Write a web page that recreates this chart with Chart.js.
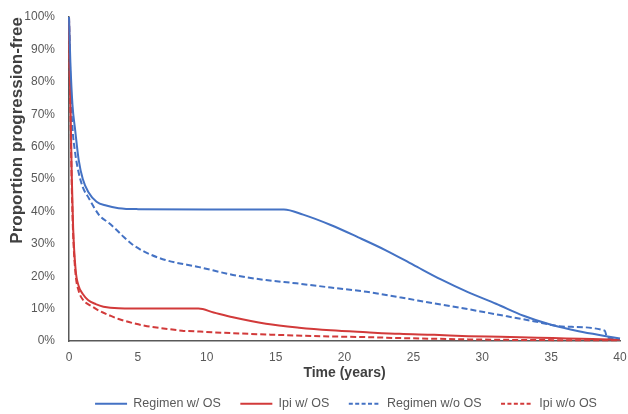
<!DOCTYPE html>
<html>
<head>
<meta charset="utf-8">
<script src="https://cdn.jsdelivr.net/npm/chart.js@4/dist/chart.umd.min.js"></script>
<style>
  html, body { margin: 0; padding: 0; background: #ffffff; }
  #wrap { width: 628px; height: 414px; }
</style>
</head>
<body>
<div id="wrap"><canvas id="pfs"></canvas></div>
<script>
// Progression-free proportion (%) over time (years), four modelled curves
const regimenOsYears = [0, 0.1, 0.25, 0.45, 0.7, 1.0, 1.4, 2.0, 2.7, 3.6, 5, 10, 15.6, 17, 19, 21, 23, 25, 27, 29, 31, 33, 35, 37, 39, 40];
const regimenOsPct   = [100, 86, 73, 65, 56, 50, 46, 43, 41.8, 41, 40.7, 40.6, 40.6, 39.0, 35.8, 32.0, 28.0, 23.5, 19.0, 15.0, 11.5, 7.8, 5.0, 3.0, 1.5, 0.8];

const ipiOsYears = [0, 0.05, 0.12, 0.2, 0.3, 0.48, 0.7, 1.0, 1.4, 1.94, 2.5, 3.6, 6, 9.4, 10.5, 11.9, 14.3, 16.7, 19, 21.6, 24, 26.5, 29, 31.3, 34, 36.1, 38, 40];
const ipiOsPct   = [100, 85, 70, 51, 35, 22, 17, 14.5, 12.6, 11.4, 10.6, 10.1, 10.0, 10.0, 8.8, 7.3, 5.3, 4.1, 3.3, 2.7, 2.2, 1.9, 1.5, 1.3, 1.0, 0.8, 0.6, 0.4];

const regimenNoOsYears = [0, 0.1, 0.25, 0.45, 0.7, 1.0, 1.45, 2.2, 2.9, 3.4, 4.0, 4.6, 5.5, 7, 9.45, 11.9, 14.3, 16.5, 19, 21.6, 24, 26.5, 29, 31.3, 33.5, 36.1, 38.9, 39.05, 40];
const regimenNoOsPct   = [100, 80, 66, 58, 52, 47.5, 44, 38.8, 36.4, 34.5, 32, 29.8, 27.5, 25, 22.8, 20.4, 18.8, 17.8, 16.5, 15.2, 13.5, 11.6, 9.8, 8.0, 6.3, 4.4, 3.2, 1.2, 0.5];

const ipiNoOsYears = [0, 0.05, 0.12, 0.2, 0.3, 0.48, 0.7, 1.0, 1.7, 2.2, 3.0, 3.6, 4.85, 5.5, 7, 8.2, 9.5, 11.9, 13.1, 16.5, 19, 21.6, 24, 26.5, 29, 32, 36, 40];
const ipiNoOsPct   = [100, 83, 67, 48, 33, 20.5, 15.5, 12.8, 10.6, 9.3, 7.8, 6.8, 5.3, 4.7, 3.8, 3.2, 2.9, 2.4, 2.2, 1.7, 1.4, 1.2, 0.9, 0.7, 0.5, 0.35, 0.25, 0.2];

const seriesNames = ['Regimen w/ OS', 'Ipi w/ OS', 'Regimen w/o OS', 'Ipi w/o OS'];
const yTicks = [0, 10, 20, 30, 40, 50, 60, 70, 80, 90, 100];
const xTicks = [0, 5, 10, 15, 20, 25, 30, 35, 40];

const BLUE = '#4472C4';
const RED = '#D23A3A';
const TEXT = '#595959';

Chart.defaults.font.family = "'Liberation Sans', Arial, sans-serif";

function pairs(xs, ys) { return xs.map((x, i) => ({ x: x, y: ys[i] })); }

function curve(label, xs, ys, color, dashed) {
  return {
    label: label,
    data: pairs(xs, ys),
    borderColor: color,
    backgroundColor: color,
    borderWidth: 2,
    borderDash: dashed ? [6, 3] : [],
    pointRadius: 0,
    pointHoverRadius: 0,
    cubicInterpolationMode: 'monotone',
    clip: false,
    fill: false
  };
}

// moves the legend row into place under the axis title
const legendPlacement = {
  id: 'legendPlacement',
  afterLayout(chart) {
    const lg = chart.legend;
    if (!lg) return;
    lg.left += 36; lg.right += 36;
    lg.top -= 4; lg.bottom -= 4;
  }
};

// invisible tick marks give the label gap without widening the edge padding
const hiddenTicks = { display: true, drawOnChartArea: false, drawTicks: true, color: 'rgba(0,0,0,0)' };

new Chart(document.getElementById('pfs'), {
  type: 'line',
  data: {
    datasets: [
      curve(seriesNames[0], regimenOsYears, regimenOsPct, BLUE, false),
      curve(seriesNames[1], ipiOsYears, ipiOsPct, RED, false),
      curve(seriesNames[2], regimenNoOsYears, regimenNoOsPct, BLUE, true),
      curve(seriesNames[3], ipiNoOsYears, ipiNoOsPct, RED, true)
    ]
  },
  options: {
    responsive: true,
    maintainAspectRatio: false,
    animation: false,
    layout: { padding: { top: 17, right: 8, bottom: -10, left: 0 } },
    plugins: {
      tooltip: { enabled: false },
      legend: {
        position: 'bottom',
        labels: {
          usePointStyle: true,
          pointStyleWidth: 32,
          padding: 19.5,
          color: TEXT,
          font: { size: 12.5 },
          generateLabels(chart) {
            return chart.data.datasets.map((ds, i) => ({
              text: ds.label,
              fillStyle: ds.borderColor,
              strokeStyle: ds.borderColor,
              fontColor: TEXT,
              lineWidth: 2,
              lineDash: ds.borderDash.length ? [4, 2.4] : [],
              pointStyle: 'line',
              hidden: false,
              datasetIndex: i
            }));
          }
        }
      }
    },
    scales: {
      x: {
        type: 'linear',
        min: 0,
        max: 40,
        afterBuildTicks(scale) { scale.ticks = xTicks.map(v => ({ value: v })); },
        afterFit(scale) { scale.height = 41; },
        grid: Object.assign({ tickLength: 8 }, hiddenTicks),
        border: { display: true, color: TEXT, width: 1.5 },
        ticks: { color: TEXT, font: { size: 12 }, padding: 1, maxRotation: 0 },
        title: {
          display: true,
          text: 'Time (years)',
          color: '#404040',
          font: { size: 14, weight: 'bold' },
          padding: { top: 0, bottom: 0 }
        }
      },
      y: {
        min: 0,
        max: 100,
        afterBuildTicks(scale) { scale.ticks = yTicks.map(v => ({ value: v })); },
        afterFit(scale) { scale.width = 69; },
        grid: Object.assign({ tickLength: 12 }, hiddenTicks),
        border: { display: true, color: TEXT, width: 1.5 },
        ticks: { color: TEXT, font: { size: 12 }, padding: 2, callback: v => v + '%' },
        title: {
          display: true,
          text: 'Proportion progression-free',
          align: 'end',
          color: '#404040',
          font: { size: 17, weight: 'bold' },
          padding: { top: 7, bottom: 0 }
        }
      }
    }
  },
  plugins: [legendPlacement]
});
</script>
</body>
</html>
